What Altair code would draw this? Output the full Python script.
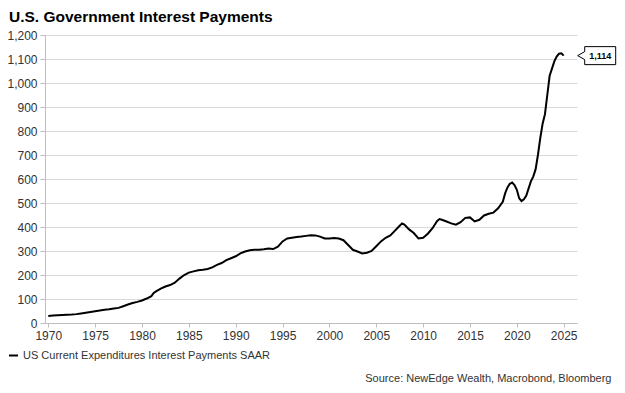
import altair as alt
import pandas as pd

# Decimal years and values (USD bn, SAAR)
years = [
    1970.0, 1970.5, 1971.0, 1971.5, 1972.0, 1972.5, 1973.0, 1973.5, 1974.0, 1974.5,
    1975.0, 1975.5, 1976.0, 1976.5, 1977.0, 1977.5, 1978.0, 1978.5, 1979.0, 1979.5,
    1980.0, 1980.5, 1981.0, 1981.25, 1981.5, 1982.0, 1982.5, 1983.0, 1983.5, 1984.0,
    1984.5, 1985.0, 1985.5, 1986.0, 1986.5, 1987.0, 1987.5, 1988.0, 1988.5, 1989.0,
    1989.5, 1990.0, 1990.5, 1991.0, 1991.5, 1992.0, 1992.5, 1993.0, 1993.5, 1994.0,
    1994.5, 1995.0, 1995.5, 1996.0, 1996.5, 1997.0, 1997.5, 1998.0, 1998.5, 1999.0,
    1999.5, 2000.0, 2000.5, 2001.0, 2001.5, 2002.0, 2002.5, 2003.0, 2003.5, 2004.0,
    2004.5, 2005.0, 2005.5, 2006.0, 2006.5, 2007.0, 2007.5, 2007.75, 2008.0, 2008.5,
    2009.0, 2009.5, 2010.0, 2010.5, 2011.0, 2011.5, 2011.75, 2012.0, 2012.5, 2013.0,
    2013.5, 2014.0, 2014.5, 2015.0, 2015.5, 2016.0, 2016.5, 2017.0, 2017.5, 2018.0,
    2018.5, 2018.75, 2019.0, 2019.25, 2019.5, 2019.75, 2020.0, 2020.25, 2020.5, 2020.75,
    2021.0, 2021.25, 2021.5, 2021.75, 2022.0, 2022.25, 2022.5, 2022.75, 2023.0, 2023.25,
    2023.5, 2023.75, 2024.0, 2024.25, 2024.5, 2024.75, 2025.0,
]
values = [
    29, 31, 32, 33, 34, 35, 37, 40, 43, 46,
    49, 52, 55, 57, 60, 63, 70, 77, 83, 88,
    94, 102, 112, 125, 132, 143, 152, 158, 168, 185,
    200, 210, 215, 220, 222, 225, 232, 242, 250, 262,
    270, 278, 290, 298, 303, 305, 305, 307, 310, 308,
    318, 340, 352, 355, 358, 360, 363, 366, 365, 360,
    352, 352, 354, 352, 345, 325, 305, 298, 290, 293,
    300, 320, 340, 355, 365, 385, 405, 415, 410, 390,
    375, 352, 355, 372, 395, 425, 433, 430, 423, 415,
    410, 420, 438, 440, 423, 430, 448, 455, 460, 478,
    505, 540, 565, 580, 585, 575, 555, 520, 508, 515,
    530, 560, 590, 610, 640, 700, 770, 830, 870, 950,
    1030, 1060, 1090, 1110, 1122, 1124, 1114,
]
series_name = "US Current Expenditures Interest Payments SAAR"
last_label = "1,114"
title_text = "U.S. Government Interest Payments"
source_text = "Source: NewEdge Wealth, Macrobond, Bloomberg"
x_ticks = [1970, 1975, 1980, 1985, 1990, 1995, 2000, 2005, 2010, 2015, 2020, 2025]
y_ticks = [0, 100, 200, 300, 400, 500, 600, 700, 800, 900, 1000, 1100, 1200]

FONT = "Liberation Sans"

df = pd.DataFrame({"year": years, "value": values, "series": series_name})
last = df.iloc[[-1]].assign(label=last_label)

x_scale = alt.Scale(domain=[1969.65, 2026.42], nice=False, zero=False)
y_scale = alt.Scale(domain=[0, 1200], nice=False)

x_axis = alt.Axis(
    values=x_ticks, format="d", grid=False, tickSize=4, labelPadding=3,
    title=source_text, titleX=566, titleY=58, titleAlign="right",
    titleBaseline="alphabetic", titleFontWeight="normal", titleFontSize=11,
    titleFont=FONT, titleColor="#333333", titleAngle=0,
)
y_axis = alt.Axis(values=y_ticks, format=",d", grid=True, tickSize=5,
                  labelPadding=3, title=None)

X = alt.X("year:Q", scale=x_scale, axis=x_axis)
Y = alt.Y("value:Q", scale=y_scale, axis=y_axis)

line = alt.Chart(df).mark_line(strokeWidth=2).encode(
    x=X,
    y=Y,
    color=alt.Color(
        "series:N",
        scale=alt.Scale(domain=[series_name], range=["#000000"]),
        legend=alt.Legend(
            orient="none", legendX=-37, legendY=315, title=None,
            symbolType="stroke", symbolStrokeWidth=2, symbolSize=81,
            labelFontSize=11, labelFont=FONT, labelColor="#333333",
            labelLimit=0, labelOffset=4, padding=0,
        ),
    ),
)

callout = alt.Chart(last).mark_point(
    shape="M14,0L21,-4L21,-9L52,-9L52,9L21,9L21,4Z",
    size=4, filled=True, fill="white", stroke="black", strokeWidth=1, opacity=1,
).encode(x=X, y=Y)

label = alt.Chart(last).mark_text(
    dx=36.5, fontWeight="bold", fontSize=9, font=FONT, color="black",
    align="center", baseline="middle",
).encode(x=X, y=Y, text="label:N")

chart = alt.layer(line, callout, label).properties(
    width=532,
    height=288,
    title=alt.TitleParams(
        title_text, anchor="start", frame="group", dx=-36, offset=4,
        fontSize=15.5, font=FONT, fontWeight="bold", color="#000000",
    ),
    autosize=alt.AutoSizeParams(type="none"),
    padding={"left": 37, "top": 27, "right": 40, "bottom": 62},
).configure_view(stroke=None).configure_axis(
    domainColor="#bfbfbf", tickColor="#bfbfbf", gridColor="#d9d9d9",
    labelColor="#333333", labelFont=FONT, labelFontSize=12,
    domainWidth=1, tickWidth=1, gridWidth=1,
)

chart.save("out.html", embed_options={"renderer": "svg", "actions": False})
